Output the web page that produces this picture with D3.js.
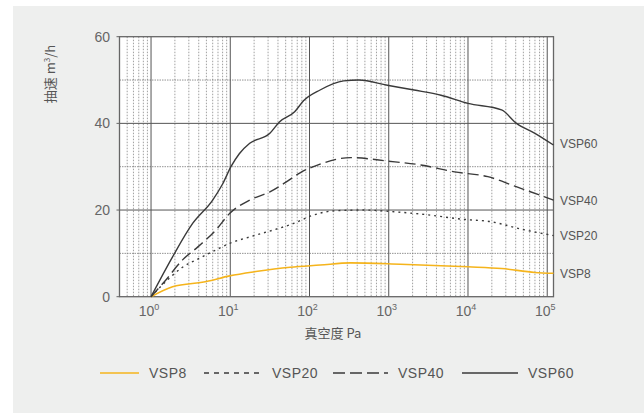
<!DOCTYPE html>
<html>
<head>
<meta charset="utf-8">
<script src="https://cdn.jsdelivr.net/npm/d3@7"></script>
<style>
	body { margin: 0; background: #fff; }
	svg { display: block; }
	text { font-family: "Noto Sans CJK SC", "Liberation Sans", sans-serif; fill: #555; }
</style>
</head>
<body>
<svg id="chart" width="644" height="413"></svg>
<script>
	// curves: [pressure Pa, speed m3/h]
	var vsp8 = [[1,0],[1.87,2.3],[5,3.5],[9.8,4.8],[21,5.8],[57,6.8],[136,7.3],[330,7.8],[1400,7.5],[10000,6.9],[26500,6.5],[70000,5.6],[120000,5.4]]
	var vsp20 = [[1,0],[1.78,4.6],[2.5,6.8],[4.1,8.9],[6.6,10.8],[9.8,12.3],[17.6,13.8],[35,15.4],[63,16.9],[107,18.7],[200,19.8],[490,20],[1170,19.6],[3100,18.9],[8200,17.9],[19600,17.3],[47000,15.6],[120000,14.1]]
	var vsp40 = [[1,0],[1.53,3.8],[2.5,8.5],[3.9,11.5],[6.6,15.4],[9.8,19.2],[17.6,22.3],[31.6,24.2],[51,26.5],[76,28.6],[136,30.6],[330,32.1],[960,31.3],[2540,30.4],[6760,28.8],[17800,27.7],[39000,25.5],[120000,22.3]]
	var vsp60 = [[1,0],[1.87,9.2],[3.35,16.9],[6,22.3],[8,26],[10.2,30],[13,33],[17.6,35.4],[31.6,37.7],[42,40.4],[65,42.7],[84,45.2],[136,47.7],[270,49.8],[420,50],[960,48.8],[2090,47.7],[4570,46.5],[10000,44.6],[26500,43.1],[41000,40],[70000,37.7],[120000,35]]

	var seriesNames = ["VSP8", "VSP20", "VSP40", "VSP60"]
	var seriesData = [vsp8, vsp20, vsp40, vsp60]
	var yTicks = [0, 20, 40, 60]
	var yMinor = [10, 30, 50]
	var xDecades = [0, 1, 2, 3, 4, 5]

	var colors = ["#f5b41c", "#3a3a3a", "#3a3a3a", "#3a3a3a"]
	var dashes = [null, "2,4", "11,5", null]

	var svg = d3.select('#chart')

	svg.append('rect')
		.attr('x', 13).attr('y', 6)
		.attr('width', 631).attr('height', 407)
		.attr('fill', '#eeefee')

	var plotL = 119.5, plotR = 553.5, plotT = 36.7, plotB = 296.7

	var x = d3.scaleLog().domain([0.4, 1.2e5]).range([plotL, plotR])
	var y = d3.scaleLinear().domain([0, 60]).range([plotB, plotT])

	svg.append('rect')
		.attr('x', plotL).attr('y', plotT)
		.attr('width', plotR - plotL).attr('height', plotB - plotT)
		.attr('fill', '#fff')

	// minor vertical grid
	var minorX = []
	for (var e = -1; e <= 5; e++) {
		for (var m = 2; m <= 9; m++) {
			var v = m * Math.pow(10, e)
			if (v > 0.39 && v < 1.2e5) minorX.push(v)
		}
	}
	svg.append('g').selectAll('line')
		.data(minorX)
		.join('line')
			.attr('x1', d => x(d)).attr('x2', d => x(d))
			.attr('y1', plotT).attr('y2', plotB)
			.attr('stroke', '#888')
			.attr('stroke-width', 0.8)
			.attr('stroke-dasharray', '1.5,1.5')

	// minor horizontal grid
	svg.append('g').selectAll('line')
		.data(yMinor)
		.join('line')
			.attr('x1', plotL).attr('x2', plotR)
			.attr('y1', d => y(d)).attr('y2', d => y(d))
			.attr('stroke', '#777')
			.attr('stroke-width', 0.8)
			.attr('stroke-dasharray', '1.5,1')

	// major grid
	svg.append('g').selectAll('line')
		.data(xDecades)
		.join('line')
			.attr('x1', d => x(Math.pow(10, d))).attr('x2', d => x(Math.pow(10, d)))
			.attr('y1', plotT).attr('y2', plotB)
			.attr('stroke', '#555')
			.attr('stroke-width', 1)
	svg.append('g').selectAll('line')
		.data(yTicks.slice(1, 3))
		.join('line')
			.attr('x1', plotL).attr('x2', plotR)
			.attr('y1', d => y(d)).attr('y2', d => y(d))
			.attr('stroke', '#555')
			.attr('stroke-width', 1)

	svg.append('rect')
		.attr('x', plotL).attr('y', plotT)
		.attr('width', plotR - plotL).attr('height', plotB - plotT)
		.attr('fill', 'none')
		.attr('stroke', '#666')
		.attr('stroke-width', 1.3)

	// y ticks
	svg.append('g').selectAll('text')
		.data(yTicks)
		.join('text')
			.attr('x', 110).attr('y', d => y(d) + 5)
			.attr('text-anchor', 'end')
			.style('font-size', '14px')
			.style('font-family', 'Liberation Sans, sans-serif')
			.style('fill', '#666')
			.text(d => d)
	svg.append('g').selectAll('line')
		.data(yTicks)
		.join('line')
			.attr('x1', plotL - 3).attr('x2', plotL)
			.attr('y1', d => y(d)).attr('y2', d => y(d))
			.attr('stroke', '#666')

	// x ticks as 10^n
	var xt = svg.append('g').selectAll('text')
		.data(xDecades)
		.join('text')
			.attr('x', d => x(Math.pow(10, d)) - 2)
			.attr('y', 316)
			.attr('text-anchor', 'middle')
			.style('font-size', '14px')
			.style('font-family', 'Liberation Sans, sans-serif')
			.style('fill', '#666')
	xt.append('tspan').text('10')
	xt.append('tspan').attr('dy', -6).style('font-size', '9px').text(d => d)

	svg.append('text')
		.attr('x', 333).attr('y', 338)
		.attr('text-anchor', 'middle')
		.style('font-size', '13px')
		.text('真空度 Pa')

	var yl = svg.append('text')
		.attr('transform', 'translate(55,74) rotate(-90)')
		.attr('text-anchor', 'middle')
		.style('font-size', '13px')
	yl.append('tspan').text('抽速 m')
	yl.append('tspan').attr('dy', -5).style('font-size', '8px').text('3')
	yl.append('tspan').attr('dy', 5).text('/h')

	// curves
	var line = d3.line()
		.x(d => x(d[0]))
		.y(d => y(d[1]))
		.curve(d3.curveMonotoneX)

	svg.append('g').selectAll('path')
		.data(seriesData)
		.join('path')
			.attr('d', line)
			.attr('fill', 'none')
			.attr('stroke', (d, i) => colors[i])
			.attr('stroke-width', (d, i) => i == 0 ? 1.6 : 1.4)
			.attr('stroke-dasharray', (d, i) => dashes[i])

	// end labels
	svg.append('g').selectAll('text')
		.data(seriesData)
		.join('text')
			.attr('x', 560)
			.attr('y', (d, i) => [278, 240, 205, 148][i])
			.style('font-size', '12px')
			.style('font-family', 'Liberation Sans, sans-serif')
			.text((d, i) => seriesNames[i])

	// legend
	var legX = [100, 204, 333, 462]
	var legW = [39, 58, 55, 56]
	var legend = svg.append('g').selectAll('g')
		.data(seriesNames)
		.join('g')
	legend.append('line')
		.attr('x1', (d, i) => legX[i]).attr('x2', (d, i) => legX[i] + legW[i])
		.attr('y1', 373).attr('y2', 373)
		.attr('stroke', (d, i) => colors[i])
		.attr('stroke-width', 1.4)
		.attr('stroke-dasharray', (d, i) => i == 1 ? '5,5' : i == 2 ? '12,5' : null)
	legend.append('text')
		.attr('x', (d, i) => legX[i] + legW[i] + 10)
		.attr('y', 378)
		.style('font-size', '14px')
		.style('font-family', 'Liberation Sans, sans-serif')
		.style('letter-spacing', '0.5px')
		.text(d => d)
</script>
</body>
</html>
